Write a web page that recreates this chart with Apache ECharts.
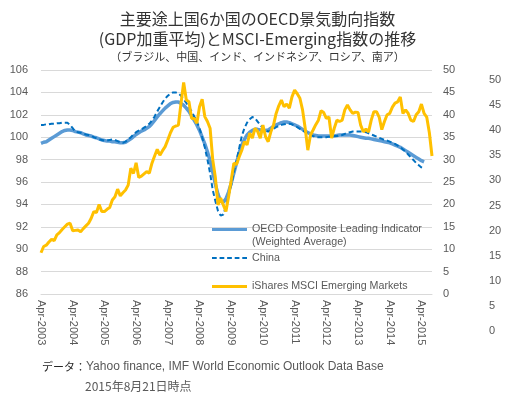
<!DOCTYPE html>
<html>
<head>
<meta charset="utf-8">
<script src="https://cdn.jsdelivr.net/npm/echarts@6/dist/echarts.min.js"></script>
<style>
  html, body { margin: 0; padding: 0; background: #fff; }
  #chart { width: 515px; height: 399px; }
</style>
</head>
<body>
<div id="chart"></div>
<script>
// monthly, Apr-2003 .. Aug-2015
var monthNames = ['Jan', 'Feb', 'Mar', 'Apr', 'May', 'Jun', 'Jul', 'Aug', 'Sep', 'Oct', 'Nov', 'Dec'];
var months = [];
for (var k = 0; k < 149; k++) {
  var m = (3 + k) % 12;
  var y = 2003 + Math.floor((3 + k) / 12);
  months.push(monthNames[m] + '-' + y);
}

var leftTicks = [86, 106, 2];
var rightTicks = [0, 50, 5];

var seriesNames = [
  'OECD Composite Leading Indicator (Weighted Average)',
  'China',
  'iShares MSCI Emerging Markets'
];

var oecd = [
  99.45, 99.55, 99.6, 99.75, 99.9, 100.05, 100.2, 100.35, 100.5, 100.6, 100.65, 100.65,
  100.6, 100.5, 100.45, 100.4, 100.3, 100.2, 100.15, 100.1, 100.0, 99.95, 99.85, 99.75,
  99.7, 99.65, 99.65, 99.6, 99.6, 99.55, 99.5, 99.5, 99.55, 99.7, 99.85, 100.05,
  100.25, 100.4, 100.55, 100.65, 100.8, 100.95, 101.2, 101.5, 101.8, 102.1, 102.35, 102.6,
  102.8, 103.0, 103.1, 103.15, 103.15, 103.0, 102.85, 102.6, 102.3, 101.9, 101.5, 101.1,
  100.6, 100.0, 99.4, 98.7, 97.9, 96.9, 95.8, 94.9, 94.3, 94.2, 94.5, 95.1,
  95.9, 96.8, 97.7, 98.6, 99.3, 99.8, 100.2, 100.45, 100.6, 100.7, 100.7, 100.65,
  100.6, 100.6, 100.65, 100.8, 100.95, 101.1, 101.2, 101.3, 101.35, 101.35, 101.3, 101.2,
  101.1, 101.0, 100.85, 100.7, 100.55, 100.4, 100.3, 100.2, 100.15, 100.1, 100.1, 100.1,
  100.1, 100.1, 100.1, 100.1, 100.15, 100.2, 100.2, 100.2, 100.2, 100.2, 100.15, 100.1,
  100.05, 100.0, 99.95, 99.9, 99.9, 99.85, 99.8, 99.75, 99.7, 99.65, 99.6, 99.55,
  99.5, 99.4, 99.3, 99.2, 99.1, 98.95, 98.8, 98.65, 98.5, 98.35, 98.2, 98.05,
  97.9, 97.8
];

var china = [
  101.1, 101.1, 101.15, 101.15, 101.2, 101.2, 101.25, 101.25, 101.3, 101.3, 101.3, 101.1,
  100.8, 100.5, 100.45, 100.4, 100.3, 100.25, 100.2, 100.1, 100.0, 99.9, 99.8, 99.75,
  99.7, 99.7, 99.75, 99.8, 99.75, 99.65, 99.55, 99.5, 99.6, 99.8, 100.0, 100.25,
  100.45, 100.6, 100.7, 100.85, 101.0, 101.2, 101.5, 101.85, 102.3, 102.7, 103.1, 103.45,
  103.7, 103.9, 104.0, 104.0, 103.9, 103.7, 103.4, 103.05, 102.7, 102.3, 101.85, 101.4,
  100.8, 100.0, 99.1, 98.0, 96.8, 95.3, 94.3, 93.4, 93.0, 93.1, 93.8, 94.8,
  95.7, 96.9, 97.9, 99.0, 100.1, 100.8, 101.3, 101.6, 101.8, 101.7, 101.4, 101.1,
  100.8, 100.6, 100.5, 100.6, 100.75, 100.9, 101.0, 101.1, 101.15, 101.2, 101.2, 101.15,
  101.0, 100.9, 100.75, 100.6, 100.45, 100.3, 100.2, 100.1, 100.0, 100.0, 100.0, 100.0,
  100.0, 100.05, 100.05, 100.1, 100.1, 100.15, 100.2, 100.3, 100.4, 100.45, 100.5, 100.5,
  100.5, 100.5, 100.5, 100.45, 100.35, 100.25, 100.15, 100.05, 99.95, 99.85, 99.75, 99.7,
  99.6, 99.5, 99.4, 99.25, 99.1, 98.9, 98.7, 98.45, 98.2, 97.95, 97.7, 97.5,
  97.3, 97.2
];

var ishares = [
  9.2, 10.6, 10.9, 11.6, 12.2, 11.9, 13.2, 13.7, 14.4, 15.0, 15.6, 15.8,
  14.1, 14.2, 14.3, 13.9, 14.6, 15.2, 15.8, 16.9, 18.4, 18.2, 20.0, 18.4,
  18.4, 18.9, 19.3, 21.0, 21.7, 23.4, 21.9, 22.6, 23.2, 24.3, 28.1, 26.9,
  29.3, 26.0, 26.3, 26.8, 27.3, 27.0, 29.2, 30.8, 32.3, 31.0, 32.0, 32.9,
  34.4, 36.0, 37.2, 37.5, 37.7, 42.6, 47.2, 43.3, 42.9, 39.2, 39.2, 38.1,
  41.8, 43.5, 39.6, 38.5, 37.0, 30.0, 26.0, 19.9, 21.4, 19.9, 18.4, 21.7,
  25.4, 29.2, 28.9, 30.6, 32.1, 34.0, 33.3, 35.9, 34.8, 37.0, 36.3, 34.8,
  37.7, 35.1, 34.0, 36.2, 37.7, 40.3, 42.0, 43.3, 41.8, 42.4, 41.5, 44.0,
  45.5, 44.7, 43.7, 41.1, 37.0, 32.1, 35.5, 36.6, 37.8, 38.8, 40.9, 40.5,
  39.2, 39.5, 34.8, 37.0, 38.8, 38.5, 38.8, 41.1, 42.2, 41.1, 40.3, 40.6,
  40.5, 37.7, 36.2, 36.8, 36.2, 38.8, 40.7, 40.7, 39.5, 36.7, 38.5, 40.0,
  40.3, 41.7, 42.6, 42.9, 44.0, 40.3, 41.1, 40.3, 38.8, 38.5, 40.0, 40.7,
  42.4, 40.3, 39.5, 36.0, 30.8
];

var titleLines = [
  '主要途上国6か国のOECD景気動向指数',
  '(GDP加重平均)とMSCI-Emerging指数の推移',
  '（ブラジル、中国、インド、インドネシア、ロシア、南ア）'
];
var sourceLabel = 'データ：';
var sourceText = 'Yahoo finance, IMF World Economic Outlook Data Base';
var dateText = '2015年8月21日時点';

var gray = '#595959';
var gridColor = '#d9d9d9';
var latin = '"Liberation Sans", Arial, sans-serif';
var cjk = '"Noto Sans CJK JP", sans-serif';

var chart = echarts.init(document.getElementById('chart'), null, { renderer: 'canvas' });

chart.setOption({
  animation: false,
  backgroundColor: '#fff',
  color: ['#5B9BD5', '#0070C0', '#FFC000'],
  grid: [
    { left: 41, right: 83, top: 70, bottom: 105 },
    { left: 41, right: 34, top: 80, bottom: 68, show: false }
  ],
  xAxis: [{
    type: 'category',
    data: months,
    boundaryGap: false,
    axisLine: { lineStyle: { color: gridColor } },
    axisTick: { show: false },
    axisLabel: {
      rotate: -90,
      color: gray,
      fontSize: 11,
      fontFamily: latin,
      margin: 6,
      interval: function(idx) { return idx % 12 === 0; }
    },
    splitLine: { show: false }
  }, {
    type: 'value', gridIndex: 1, show: false, min: 0, max: 1
  }],
  yAxis: [{
    type: 'value',
    min: leftTicks[0], max: leftTicks[1], interval: leftTicks[2],
    axisLine: { show: false },
    axisTick: { show: false },
    axisLabel: { color: gray, fontSize: 11, fontFamily: latin, margin: 13 },
    splitLine: { lineStyle: { color: gridColor } }
  }, {
    type: 'value',
    position: 'right',
    min: rightTicks[0], max: rightTicks[1], interval: rightTicks[2],
    axisLine: { show: false },
    axisTick: { show: false },
    axisLabel: { color: gray, fontSize: 11, fontFamily: latin, margin: 11 },
    splitLine: { show: false }
  }, {
    type: 'value',
    gridIndex: 1,
    position: 'right',
    min: rightTicks[0], max: rightTicks[1], interval: rightTicks[2],
    axisLine: { show: false },
    axisTick: { show: false },
    axisLabel: { color: gray, fontSize: 11, fontFamily: latin, margin: 8 },
    splitLine: { show: false }
  }],
  legend: {
    orient: 'vertical',
    left: 207,
    top: 219,
    itemWidth: 35,
    itemHeight: 3,
    itemGap: 17.5,
    textStyle: { color: gray, fontSize: 10.7, fontFamily: latin },
    formatter: function(name) {
      return name === seriesNames[0] ? 'OECD Composite Leading Indicator' : name;
    },
    data: [
      { name: seriesNames[0], icon: 'rect' },
      { name: seriesNames[1], icon: 'path://M0,0h5v2h-5z M8,0h5v2h-5z M16,0h5v2h-5z M24,0h5v2h-5z M32,0h5v2h-5z' },
      { name: seriesNames[2], icon: 'rect' }
    ]
  },
  graphic: [
    { type: 'text', left: 'center', top: 11, style: { text: titleLines[0], font: '16px ' + cjk, fill: '#333' } },
    { type: 'text', left: 'center', top: 31, style: { text: titleLines[1], font: '16px ' + cjk, fill: '#333' } },
    { type: 'text', left: 'center', top: 51, style: { text: titleLines[2], font: '11px ' + cjk, fill: '#333' } },
    { type: 'text', left: 252, top: 237, style: { text: '(Weighted Average)', font: '10.7px ' + latin, fill: gray } },
    {
      type: 'text', left: 42, top: 361,
      style: {
        text: '{a|' + sourceLabel + '}{b|' + sourceText + '}',
        rich: {
          a: { font: '11px ' + cjk, fill: '#262626' },
          b: { font: '12px ' + latin, fill: gray }
        }
      }
    },
    { type: 'text', left: 85, top: 380, style: { text: dateText, font: '12px ' + cjk, fill: gray } }
  ],
  series: [{
    name: seriesNames[0],
    type: 'line',
    data: oecd,
    showSymbol: false,
    symbol: 'none',
    lineStyle: { width: 3.5, color: '#5B9BD5' }
  }, {
    name: seriesNames[1],
    type: 'line',
    data: china,
    showSymbol: false,
    symbol: 'none',
    lineStyle: { width: 2, color: '#0070C0', type: [5, 3] }
  }, {
    name: seriesNames[2],
    type: 'line',
    yAxisIndex: 1,
    data: ishares,
    showSymbol: false,
    symbol: 'none',
    lineStyle: { width: 3, color: '#FFC000' }
  }]
});
</script>
</body>
</html>
